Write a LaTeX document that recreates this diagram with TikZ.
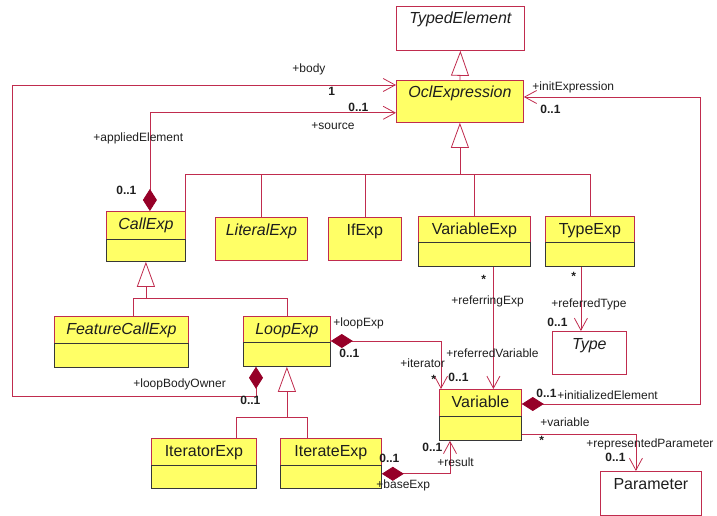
\documentclass[tikz,border=0pt]{standalone}
\usepackage{fontspec}
\setmainfont{Liberation Sans}
\usepackage{tikz}
\usetikzlibrary{arrows.meta, positioning, calc}
\definecolor{umlred}{RGB}{192, 44, 78}
\definecolor{umldark}{RGB}{150, 0, 40}
\definecolor{umlyellow}{RGB}{255, 255, 102}
\definecolor{compgray}{RGB}{55, 55, 55}
\definecolor{labelgray}{RGB}{30, 30, 30}

\begin{document}
\begin{tikzpicture}[x=1pt, y=-1pt, line width=0.8pt,
  cls/.style={draw=umlred, fill=umlyellow, anchor=north west, inner sep=0pt},
  plaincls/.style={cls, fill=white},
  clsname/.style={anchor=base, inner sep=0pt, text=labelgray, font=\fontsize{16}{18}\selectfont},
  compart/.style={draw=compgray, fill=umlyellow},
  umlline/.style={draw=umlred},
  gen/.style={umlline, -{Triangle[open, fill=white, length=25pt, width=18pt]}},
  nav/.style={umlline, -{Straight Barb[length=12pt, width=13pt]}},
  comp/.style={umlline, {Diamond[length=22pt, width=14pt, color=umldark]}-{Straight Barb[length=12pt, width=13pt]}},
  role/.style={anchor=west, inner sep=0pt, text=labelgray, font=\fontsize{12}{14}\selectfont},
  mult/.style={role, font=\bfseries\fontsize{12}{14}\selectfont}]
\useasboundingbox (0,0) rectangle (717,516);

% classes
\node[plaincls, minimum width=128pt, minimum height=44pt] (typed) at (396,6) {};
\node[cls, minimum width=127pt, minimum height=42pt] (ocl) at (396,80) {};
\node[cls, minimum width=79pt, minimum height=50pt] (callexp) at (106,211) {};
\node[cls, minimum width=92pt, minimum height=43pt] (literalexp) at (215,217) {};
\node[cls, minimum width=73pt, minimum height=43pt] (ifexp) at (328,217) {};
\node[cls, minimum width=112pt, minimum height=50pt] (variableexp) at (418,216) {};
\node[cls, minimum width=89pt, minimum height=50pt] (typeexp) at (545,216) {};
\node[cls, minimum width=134pt, minimum height=51pt] (featurecall) at (54,316) {};
\node[cls, minimum width=87pt, minimum height=50pt] (loopexp) at (243,316) {};
\node[plaincls, minimum width=74pt, minimum height=43pt] (type) at (552,331) {};
\node[cls, minimum width=82pt, minimum height=51pt] (variable) at (439,389) {};
\node[cls, minimum width=105pt, minimum height=50pt] (iteratorexp) at (151,438) {};
\node[cls, minimum width=101pt, minimum height=50pt] (iterateexp) at (280,438) {};
\node[plaincls, minimum width=101pt, minimum height=44pt] (param) at (600,471) {};

\draw[compart] ([yshift=-28pt]callexp.north west) rectangle (callexp.south east);
\draw[compart] ([yshift=-26pt]variableexp.north west) rectangle (variableexp.south east);
\draw[compart] ([yshift=-26pt]typeexp.north west) rectangle (typeexp.south east);
\draw[compart] ([yshift=-27pt]featurecall.north west) rectangle (featurecall.south east);
\draw[compart] ([yshift=-26pt]loopexp.north west) rectangle (loopexp.south east);
\draw[compart] ([yshift=-27pt]variable.north west) rectangle (variable.south east);
\draw[compart] ([yshift=-27pt]iteratorexp.north west) rectangle (iteratorexp.south east);
\draw[compart] ([yshift=-27pt]iterateexp.north west) rectangle (iterateexp.south east);

\node[clsname] (typed-n) at ([yshift=-18pt]typed.north) {\itshape TypedElement};
\node[clsname] (ocl-n) at ([yshift=-18pt]ocl.north) {\itshape OclExpression};
\node[clsname] (callexp-n) at ([yshift=-18pt]callexp.north) {\itshape CallExp};
\node[clsname] (literalexp-n) at ([yshift=-18pt]literalexp.north) {\itshape LiteralExp};
\node[clsname] (ifexp-n) at ([yshift=-18pt]ifexp.north) {IfExp};
\node[clsname] (variableexp-n) at ([yshift=-18pt]variableexp.north) {VariableExp};
\node[clsname] (typeexp-n) at ([yshift=-18pt]typeexp.north) {TypeExp};
\node[clsname] (featurecall-n) at ([yshift=-18pt]featurecall.north) {\itshape FeatureCallExp};
\node[clsname] (loopexp-n) at ([yshift=-18pt]loopexp.north) {\itshape LoopExp};
\node[clsname] (type-n) at ([yshift=-18pt]type.north) {\itshape Type};
\node[clsname] (variable-n) at ([yshift=-18pt]variable.north) {Variable};
\node[clsname] (iteratorexp-n) at ([yshift=-18pt]iteratorexp.north) {IteratorExp};
\node[clsname] (iterateexp-n) at ([yshift=-18pt]iterateexp.north) {IterateExp};
\node[clsname] (param-n) at ([yshift=-18pt]param.north) {Parameter};

% generalizations
\coordinate (oclbus) at (459,174);
\coordinate (callbus) at (0,298);
\coordinate (loopbus) at (0,417);
\draw[gen] (ocl.north) -- (typed.south);
\draw[gen] (ocl.south |- oclbus) -- (ocl.south);
\draw[umlline] (callexp.north east) |- (typeexp.north |- oclbus) -- (typeexp.north);
\foreach \c in {literalexp, ifexp, variableexp}
  \draw[umlline] (\c.north |- oclbus) -- (\c.north);
\draw[gen] (callexp.south |- callbus) -- (callexp.south);
\draw[umlline] ([xshift=12pt]featurecall.north) |- (loopexp.north |- callbus) -- (loopexp.north);
\draw[gen] (loopexp.south |- loopbus) -- (loopexp.south);
\draw[umlline] ([xshift=32pt]iteratorexp.north) |- ([xshift=-24pt]iterateexp.north |- loopbus) -- ([xshift=-24pt]iterateexp.north);

% associations
\coordinate (bodycorner) at (12,396);
\coordinate (initcorner) at (700,97);
\draw[comp] ([xshift=13pt]loopexp.south west) |- (bodycorner) |- ([yshift=-5pt]ocl.north west);
\draw[comp] ([xshift=4pt]callexp.north) |- ([yshift=10pt]ocl.south west);
\draw[comp] ([yshift=-15pt]variable.north east) -| (initcorner) -- (initcorner -| ocl.east);
\draw[comp] ([yshift=-25pt]loopexp.north east) -| ([xshift=2pt]variable.north west);
\draw[nav] ([xshift=19pt]variableexp.south) -- ([xshift=19pt]variableexp.south |- variable.north);
\draw[nav] ([xshift=-9pt]typeexp.south) -- ([xshift=-9pt]typeexp.south |- type.north);
\draw[nav] ([yshift=6pt]variable.south east) -| ([xshift=-15pt]param.north);
\draw[comp] ([yshift=15pt]iterateexp.south east) -| ([xshift=11pt]variable.south west);

% role names and multiplicities
\node[role] (r-body) at (292,69) {+body};
\node[mult] (m-body) at (328,91) {1};
\node[role] (r-source) at (311,126) {+source};
\node[mult] (m-source) at (348,107) {0..1};
\node[role] (r-applied) at (93,138) {+appliedElement};
\node[mult] (m-applied) at (116,190) {0..1};
\node[role] (r-init) at (532,87) {+initExpression};
\node[mult] (m-init) at (540,109) {0..1};
\node[mult] (m-referring) at (481,279) {*};
\node[role] (r-referring) at (451,301) {+referringExp};
\node[mult] (m-typeexp) at (571,276) {*};
\node[role] (r-reftype) at (551,304) {+referredType};
\node[mult] (m-reftype) at (547,322) {0..1};
\node[role] (r-refvar) at (446,353) {+referredVariable};
\node[role] (r-loopexp) at (333,323) {+loopExp};
\node[mult] (m-loopexp) at (339,353) {0..1};
\node[role] (r-iterator) at (400,363) {+iterator};
\node[mult] (m-iterator) at (431,379) {*};
\node[mult] (m-refvar) at (448,377) {0..1};
\node[mult] (m-initel) at (536,393) {0..1};
\node[role] (r-initel) at (557,395) {+initializedElement};
\node[role] (r-variable) at (540,422) {+variable};
\node[mult] (m-variable) at (539,440) {*};
\node[role] (r-param) at (586,444) {+representedParameter};
\node[mult] (m-param) at (605,457) {0..1};
\node[mult] (m-result) at (422,447) {0..1};
\node[role] (r-result) at (437,462) {+result};
\node[mult] (m-baseexp) at (379,458) {0..1};
\node[role] (r-baseexp) at (376,485) {+baseExp};
\node[role] (r-owner) at (133,384) {+loopBodyOwner};
\node[mult] (m-owner) at (240,400) {0..1};
\end{tikzpicture}
\end{document}
